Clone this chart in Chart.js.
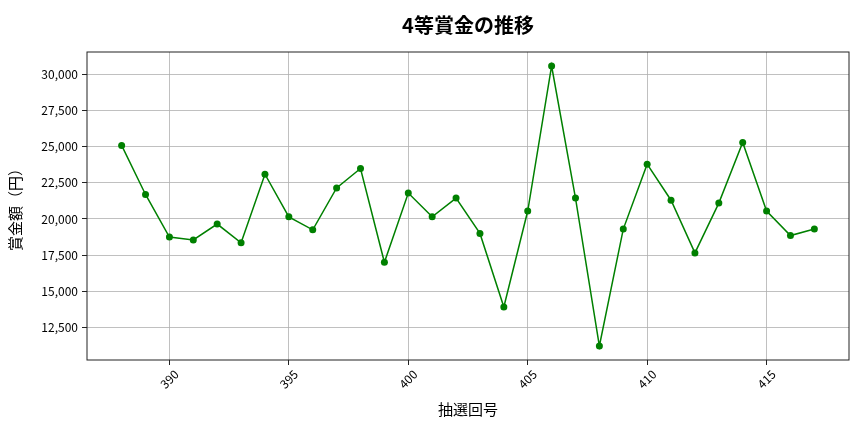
<!DOCTYPE html>
<html>
<head>
<meta charset="utf-8">
<script src="https://cdn.jsdelivr.net/npm/chart.js@4.4.1/dist/chart.umd.min.js"></script>
<style>
  html, body { margin: 0; padding: 0; background: #fff; }
  #wrap { width: 864px; height: 432px; }
</style>
</head>
<body>
<div id="wrap"><canvas id="chart"></canvas></div>
<script>
// draw numbers (抽選回号) and 4th prize amounts in yen
const drawNumbers = [388, 389, 390, 391, 392, 393, 394, 395, 396, 397,
    398, 399, 400, 401, 402, 403, 404, 405, 406, 407,
    408, 409, 410, 411, 412, 413, 414, 415, 416, 417];
const prizeValues = [25100, 21700, 18750, 18550, 19650, 18350, 23100, 20150, 19250, 22150,
    23500, 17000, 21800, 20150, 21450, 19000, 13900, 20550, 30600, 21450,
    11200, 19300, 23800, 21300, 17650, 21100, 25300, 20550, 18850, 19300];
const xTickValues = [390, 395, 400, 405, 410, 415];
const yTickValues = [12500, 15000, 17500, 20000, 22500, 25000, 27500, 30000];

const chartTitle = '4等賞金の推移';
const xTitle = '抽選回号';
const yTitle = '賞金額（円）';

const fontFamily = '"Noto Sans CJK JP", "Noto Sans", sans-serif';

// matplotlib style 5% margins around the data
const xSpan = drawNumbers[drawNumbers.length - 1] - drawNumbers[0];
const ySpan = Math.max(...prizeValues) - Math.min(...prizeValues);
const xMin = drawNumbers[0] - xSpan * 0.05;
const xMax = drawNumbers[drawNumbers.length - 1] + xSpan * 0.05;
const yMin = Math.min(...prizeValues) - ySpan * 0.05;
const yMax = Math.max(...prizeValues) + ySpan * 0.05;

const points = drawNumbers.map((n, i) => ({ x: n, y: prizeValues[i] }));

// box round the plot area and the title over its centre
const framePlugin = {
    id: 'frame',
    afterDraw(chart) {
        const { ctx, chartArea } = chart;
        ctx.save();
        ctx.strokeStyle = '#222';
        ctx.lineWidth = 1;
        ctx.strokeRect(chartArea.left, chartArea.top,
            chartArea.right - chartArea.left, chartArea.bottom - chartArea.top);
        ctx.fillStyle = '#000';
        ctx.font = 'bold 20px ' + fontFamily;
        ctx.textAlign = 'center';
        ctx.textBaseline = 'middle';
        ctx.fillText(chartTitle, (chartArea.left + chartArea.right) / 2, 25);
        ctx.restore();
    }
};

const grid = {
    color: '#b0b0b0',
    lineWidth: 0.8,
    tickLength: 5,
    tickColor: '#222',
    tickWidth: 1
};

new Chart(document.getElementById('chart'), {
    type: 'line',
    data: {
        datasets: [{
            data: points,
            borderColor: '#008000',
            backgroundColor: '#008000',
            borderWidth: 1.5,
            pointRadius: 3.5,
            pointBorderWidth: 0,
            pointBackgroundColor: '#008000',
            tension: 0
        }]
    },
    options: {
        responsive: true,
        maintainAspectRatio: false,
        animation: false,
        layout: { padding: { left: 0, right: 15, top: 52, bottom: 0 } },
        plugins: {
            legend: { display: false },
            tooltip: { enabled: false }
        },
        scales: {
            x: {
                type: 'linear',
                min: xMin,
                max: xMax,
                afterBuildTicks(scale) {
                    scale.ticks = xTickValues.map(v => ({ value: v }));
                },
                afterFit(scale) { scale.height = 72; },
                grid: grid,
                border: { display: false },
                ticks: {
                    color: '#000',
                    font: { family: fontFamily, size: 12 },
                    maxRotation: 45,
                    minRotation: 45,
                    padding: 2,
                    labelOffset: 7,
                    callback: v => String(v)
                },
                title: {
                    display: true,
                    text: xTitle,
                    color: '#000',
                    font: { family: fontFamily, size: 15 },
                    padding: { top: 0, bottom: 14 }
                }
            },
            y: {
                min: yMin,
                max: yMax,
                afterBuildTicks(scale) {
                    scale.ticks = yTickValues.map(v => ({ value: v }));
                },
                afterFit(scale) { scale.width = 87; },
                grid: grid,
                border: { display: false },
                ticks: {
                    color: '#000',
                    font: { family: fontFamily, size: 12 },
                    padding: 4,
                    callback: v => v.toLocaleString('en-US')
                },
                title: {
                    display: true,
                    text: yTitle,
                    color: '#000',
                    font: { family: fontFamily, size: 15 },
                    padding: { top: 6, bottom: 0 }
                }
            }
        }
    },
    plugins: [framePlugin]
});
</script>
</body>
</html>
